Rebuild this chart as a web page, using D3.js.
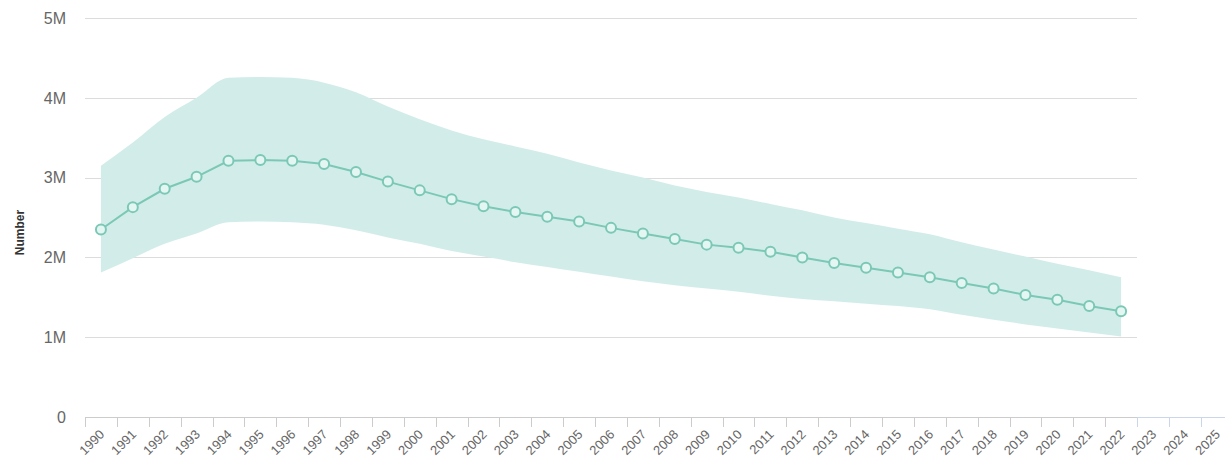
<!DOCTYPE html>
<html>
<head>
<meta charset="utf-8">
<script src="https://cdn.jsdelivr.net/npm/d3@7"></script>
<style>
  html, body { margin: 0; padding: 0; background: #fff; }
  svg { display: block; font-family: "Liberation Sans", Arial, sans-serif; }
</style>
</head>
<body>
<svg id="chart" width="1225" height="462"></svg>
<script>
// Axis categories (the last three have no data yet)
const years = d3.range(1990, 2026).map(String);
const dataYears = d3.range(1990, 2023).map(String);

// Central estimate (number of people)
const estimate = [
  2.35e6, 2.63e6, 2.86e6, 3.01e6, 3.21e6, 3.22e6, 3.21e6, 3.17e6, 3.07e6, 2.95e6,
  2.84e6, 2.73e6, 2.64e6, 2.57e6, 2.51e6, 2.45e6, 2.37e6, 2.30e6, 2.23e6, 2.16e6,
  2.12e6, 2.07e6, 2.00e6, 1.93e6, 1.87e6, 1.81e6, 1.75e6, 1.68e6, 1.61e6, 1.53e6,
  1.47e6, 1.39e6, 1.325e6
];

// Uncertainty interval bounds
const upper = [
  3.15e6, 3.44e6, 3.76e6, 4.00e6, 4.25e6, 4.26e6, 4.25e6, 4.19e6, 4.07e6, 3.89e6,
  3.73e6, 3.59e6, 3.48e6, 3.39e6, 3.30e6, 3.19e6, 3.09e6, 3.00e6, 2.90e6, 2.82e6,
  2.75e6, 2.67e6, 2.59e6, 2.50e6, 2.43e6, 2.36e6, 2.29e6, 2.19e6, 2.10e6, 2.01e6,
  1.92e6, 1.84e6, 1.75e6
];
const lower = [
  1.81e6, 1.99e6, 2.17e6, 2.30e6, 2.44e6, 2.45e6, 2.44e6, 2.41e6, 2.34e6, 2.25e6,
  2.17e6, 2.08e6, 2.01e6, 1.94e6, 1.88e6, 1.82e6, 1.76e6, 1.70e6, 1.65e6, 1.61e6,
  1.57e6, 1.52e6, 1.48e6, 1.45e6, 1.42e6, 1.39e6, 1.35e6, 1.28e6, 1.22e6, 1.16e6,
  1.11e6, 1.06e6, 1.01e6
];

const yTicks = [0, 1e6, 2e6, 3e6, 4e6, 5e6];
const yTickLabels = ["0", "1M", "2M", "3M", "4M", "5M"];

const svg = d3.select("#chart");
const plotLeft = 85, step = 31.88;
const plotTop = 18, plotBottom = 417;

const x = d3.scaleBand()
  .domain(years)
  .range([plotLeft, plotLeft + step * years.length])
  .paddingInner(0).paddingOuter(0);
const cx = d => x(d) + x.bandwidth() / 2;
const dataRight = x(dataYears[dataYears.length - 1]) + x.bandwidth();

const y = d3.scaleLinear().domain([0, 5e6]).range([plotBottom, plotTop]);

// Horizontal grid lines
svg.append("g").selectAll("line")
  .data(yTicks.filter(v => v > 0))
  .join("line")
  .attr("x1", plotLeft).attr("x2", dataRight)
  .attr("y1", d => Math.round(y(d)) + 0.5).attr("y2", d => Math.round(y(d)) + 0.5)
  .attr("stroke", "#dcdcdc").attr("stroke-width", 1);

// Y axis labels
svg.append("g").selectAll("text")
  .data(yTicks)
  .join("text")
  .attr("x", 66).attr("y", d => y(d))
  .attr("dy", "0.36em")
  .attr("text-anchor", "end")
  .attr("font-size", 16).attr("fill", "#666")
  .text((d, i) => yTickLabels[i]);

svg.append("text")
  .attr("transform", `translate(24,${(plotTop + plotBottom) / 2 + 15}) rotate(-90)`)
  .attr("text-anchor", "middle")
  .attr("font-size", 12).attr("font-weight", "bold").attr("fill", "#333")
  .text("Number");

// Uncertainty band
const rows = dataYears.map((yr, i) => ({ yr, v: estimate[i], lo: lower[i], hi: upper[i] }));
svg.append("path")
  .datum(rows)
  .attr("d", d3.area().x(d => cx(d.yr)).y0(d => y(d.lo)).y1(d => y(d.hi)).curve(d3.curveMonotoneX))
  .attr("fill", "#d2ede9");

// X axis
const xAxis = svg.append("g");
xAxis.append("line")
  .attr("x1", plotLeft).attr("x2", dataRight)
  .attr("y1", plotBottom + 0.5).attr("y2", plotBottom + 0.5)
  .attr("stroke", "#cccccc");
xAxis.append("line")
  .attr("x1", dataRight).attr("x2", 1225)
  .attr("y1", plotBottom + 0.5).attr("y2", plotBottom + 0.5)
  .attr("stroke", "#ccd6eb");
xAxis.selectAll("line.tick")
  .data(years)
  .join("line")
  .attr("class", "tick")
  .attr("x1", d => Math.round(x(d)) + 0.5).attr("x2", d => Math.round(x(d)) + 0.5)
  .attr("y1", plotBottom).attr("y2", plotBottom + 10)
  .attr("stroke", d => x(d) >= dataRight - 1 ? "#ccd6eb" : "#cccccc");
xAxis.selectAll("text")
  .data(years)
  .join("text")
  .attr("transform", d => `translate(${cx(d) + 1},${plotBottom + 15}) rotate(-45)`)
  .attr("text-anchor", "end")
  .attr("dy", "0.35em")
  .attr("font-size", 13).attr("fill", "#666")
  .text(d => d);

// Estimate line and markers
svg.append("path")
  .datum(rows)
  .attr("d", d3.line().x(d => cx(d.yr)).y(d => y(d.v)))
  .attr("fill", "none").attr("stroke", "#7bc8b7").attr("stroke-width", 2);

svg.append("g").selectAll("circle")
  .data(rows)
  .join("circle")
  .attr("cx", d => cx(d.yr)).attr("cy", d => y(d.v))
  .attr("r", 5)
  .attr("fill", "#e3f6f2").attr("stroke", "#7bc8b7").attr("stroke-width", 2);
</script>
</body>
</html>
